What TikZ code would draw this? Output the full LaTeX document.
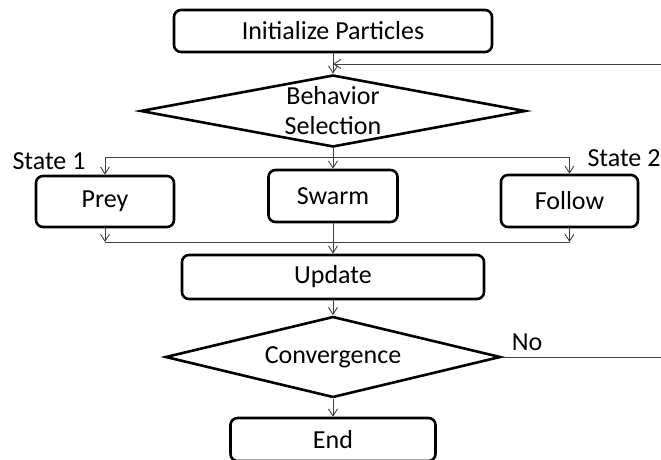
\documentclass[tikz,border=0pt]{standalone}
\usepackage{fontspec}
\setmainfont{Carlito}
\usetikzlibrary{positioning, shapes.geometric, arrows.meta}

\begin{document}
\begin{tikzpicture}[x=1pt, y=1pt,
  every node/.style={font=\fontsize{26}{30}\selectfont},
  box/.style={draw, line width=2.6pt, rounded corners=7pt, inner sep=0pt},
  decision/.style={draw, diamond, line width=2.6pt, inner sep=0pt},
  flow/.style={draw=black!75, line width=0.9pt, -{Straight Barb[length=7pt,width=9pt]}},
  link/.style={draw=black!75, line width=0.9pt}]
  \useasboundingbox (0,0) rectangle (661,459);

  \node[box, minimum width=318, minimum height=42] (init) at (333,428) {Initialize Particles};
  \node[decision, minimum width=385, minimum height=72,
        label={[align=center]center:Behavior\\Selection}] (sel) at (333,348) {};

  \node[box, minimum width=138, minimum height=51] (prey) at (105,257.5) {Prey};
  \node[box, minimum width=129, minimum height=52] (swarm) at (333,263) {Swarm};
  \node[box, minimum width=137, minimum height=52] (follow) at (569.5,258) {Follow};

  \node[box, minimum width=302, minimum height=44] (upd) at (333,182) {Update};
  \node[decision, minimum width=335, minimum height=81,
        label=center:Convergence] (conv) at (333,102) {};
  \node[box, minimum width=205, minimum height=43] (end) at (333,19.5) {End};

  \node (s1) at (49,298) {State 1};
  \node (s2) at (624,301) {State 2};
  \node (no) at (527,117) {No};

  \coordinate (split) at (333,302);
  \coordinate (merge) at (333,217);
  \coordinate (fb) at (333,395);

  \draw[flow] (init) -- (sel);
  \draw[flow] (conv.east) -- (672,102) |- (fb);

  \draw[flow] (sel.south) -- (swarm.north);
  \draw[flow] (split) -| (prey);
  \draw[flow] (split) -| (follow);

  \draw[flow] (prey) -- (prey |- merge);
  \draw[flow] (follow) -- (follow |- merge);
  \draw[link] (prey |- merge) -- (follow |- merge);

  \draw[flow] (swarm) -- (upd);
  \draw[flow] (upd) -- (conv);
  \draw[flow] (conv) -- (end);
\end{tikzpicture}
\end{document}
